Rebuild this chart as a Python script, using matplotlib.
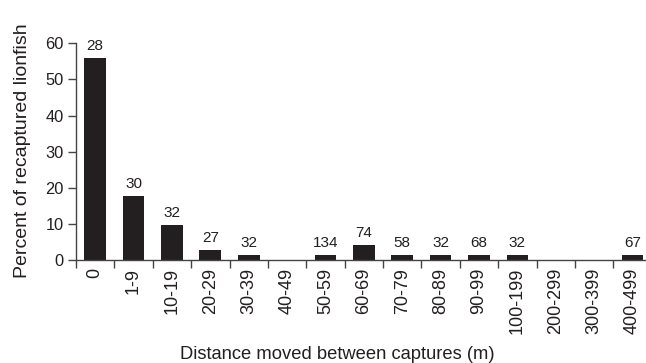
import matplotlib
matplotlib.use("Agg")
import matplotlib.pyplot as plt

plt.rcParams['font.family'] = ['Liberation Sans', 'DejaVu Sans']

categories = ["0", "1-9", "10-19", "20-29", "30-39", "40-49", "50-59", "60-69",
              "70-79", "80-89", "90-99", "100-199", "200-299", "300-399", "400-499"]
percent = [56.0, 17.8, 9.6, 2.7, 1.4, 0.0, 1.4, 4.1, 1.4, 1.4, 1.4, 1.4, 0.0, 0.0, 1.4]
n_labels = ["28", "30", "32", "27", "32", "", "134", "74", "58", "32", "68", "32", "", "", "67"]
y_ticks = [0, 10, 20, 30, 40, 50, 60]

ink = "#231f20"
W, H = 646, 363
fig = plt.figure(figsize=(W / 100, H / 100), dpi=100)
ax = fig.add_axes([76 / W, 1 - 260 / H, (651.7 - 76) / W, (260 - 43.3) / H])

x = list(range(len(categories)))
ax.bar(x, percent, width=0.565, color=ink, edgecolor=ink, linewidth=0)

for xi, v, lab in zip(x, percent, n_labels):
    if lab:
        ax.annotate(lab, (xi, v), xytext=(0, 3.5), textcoords="offset points",
                    ha="center", va="bottom", fontsize=11, color=ink)

ax.set_xlim(-0.5, len(categories) - 0.5)
ax.set_ylim(0, 60)
ax.set_yticks(y_ticks)
ax.set_yticklabels([str(t) for t in y_ticks], fontsize=11.8, color=ink)

# tick marks sit on category boundaries, labels at category centres
ax.set_xticks([i - 0.5 for i in range(len(categories) + 1)])
ax.set_xticklabels([])
ax.set_xticks(x, minor=True)
ax.set_xticklabels(categories, minor=True, rotation=90, fontsize=13, color=ink)
ax.tick_params(axis="x", which="minor", length=0, pad=5.5)
ax.tick_params(axis="x", which="major", length=6, width=1, color="#444444", direction="out")
ax.tick_params(axis="y", length=6, width=1, color="#444444", direction="out", pad=3)

for s in ["top", "right"]:
    ax.spines[s].set_visible(False)
for s in ["left", "bottom"]:
    ax.spines[s].set_color("#444444")
    ax.spines[s].set_linewidth(1.0)

fig.text(23 / W, 1 - 150.5 / H, "Percent of recaptured lionfish", rotation=90,
         ha="center", va="center", fontsize=14, color=ink)
fig.text(337 / W, 1 - 359 / H, "Distance moved between captures (m)",
         ha="center", va="baseline", fontsize=13.2, color=ink)

fig.savefig("out.png", dpi=100)
